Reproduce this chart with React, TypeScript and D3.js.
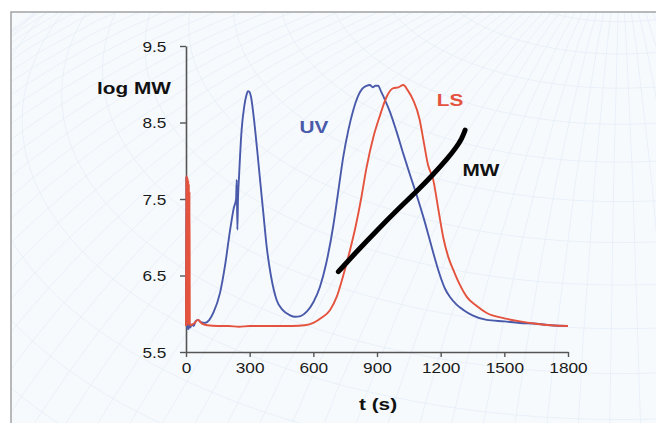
import React, { useEffect, useRef } from "react";
import * as d3 from "d3";

// UV detector trace (blue)
const uvTime = [0, 2, 5, 8, 12, 16, 20, 28, 36, 45, 57, 70, 90, 110, 130, 160, 185, 207, 225, 236, 239, 242, 245, 250, 262, 275, 285, 292, 299, 306, 320, 335, 349, 365, 380, 400, 427, 455, 490, 514, 540, 570, 600, 631, 660, 694, 720, 741, 765, 788, 810, 830, 851, 866, 880, 893, 905, 920, 940, 961, 990, 1023, 1055, 1087, 1120, 1150, 1175, 1197, 1220, 1244, 1275, 1307, 1350, 1417, 1500, 1574, 1650, 1720, 1800];
const uvValue = [5.85, 7.8, 5.8, 5.9, 5.8, 5.88, 5.82, 5.86, 5.84, 5.9, 5.92, 5.89, 5.88, 5.92, 6.02, 6.27, 6.65, 7.08, 7.38, 7.5, 7.75, 7.1, 7.5, 7.8, 8.4, 8.72, 8.86, 8.91, 8.9, 8.84, 8.55, 8.15, 7.75, 7.3, 6.88, 6.5, 6.18, 6.05, 5.98, 5.96, 5.97, 6.03, 6.15, 6.35, 6.65, 7.15, 7.65, 8.05, 8.4, 8.66, 8.84, 8.94, 8.98, 8.99, 8.96, 8.98, 8.98, 8.9, 8.78, 8.64, 8.4, 8.1, 7.82, 7.55, 7.25, 6.95, 6.7, 6.5, 6.33, 6.22, 6.12, 6.05, 5.98, 5.92, 5.9, 5.88, 5.87, 5.85, 5.84];

// light scattering trace (red)
const lsTime = [0, 1.5, 3, 4.5, 6, 7.5, 9, 10.5, 12, 13.5, 15, 16.5, 18, 22, 30, 40, 57, 75, 100, 150, 200, 250, 300, 400, 500, 560, 600, 640, 679, 710, 741, 770, 800, 825, 850, 883, 915, 946, 977, 1000, 1024, 1045, 1071, 1100, 1120, 1140, 1165, 1190, 1212, 1235, 1260, 1290, 1323, 1370, 1417, 1500, 1574, 1650, 1720, 1800];
const lsValue = [5.84, 7.8, 5.9, 7.8, 5.9, 7.78, 5.85, 7.75, 5.85, 7.7, 5.88, 7.6, 5.85, 5.85, 5.86, 5.88, 5.92, 5.87, 5.85, 5.84, 5.84, 5.83, 5.84, 5.84, 5.84, 5.85, 5.88, 5.95, 6.05, 6.22, 6.5, 6.8, 7.15, 7.5, 7.9, 8.31, 8.6, 8.84, 8.95, 8.96, 8.99, 8.92, 8.79, 8.55, 8.25, 7.95, 7.75, 7.35, 7.0, 6.75, 6.57, 6.38, 6.22, 6.1, 6.01, 5.94, 5.9, 5.87, 5.85, 5.84];

// log MW (black)
const mwTime = [718, 800, 900, 1000, 1087, 1165, 1230, 1275, 1300, 1315];
const mwValue = [6.55, 6.8, 7.09, 7.37, 7.6, 7.82, 8.02, 8.18, 8.29, 8.4];

const xTicks = [0, 300, 600, 900, 1200, 1500, 1800];
const yTicks = [5.5, 6.5, 7.5, 8.5, 9.5];

const W = 656;
const H = 423;
const FONT = "'Liberation Sans', Arial, sans-serif";

export default function App() {
  const ref = useRef<SVGSVGElement>(null);

  useEffect(() => {
    const svg = d3.select(ref.current);
    svg.selectAll("*").remove();

    const x = d3.scaleLinear().domain([0, 1800]).range([186, 568]);
    const y = d3.scaleLinear().domain([5.5, 9.5]).range([352, 46]);

    // page background + frame
    svg.append("rect").attr("width", W).attr("height", H).attr("fill", "#ffffff");
    svg
      .append("clipPath")
      .attr("id", "frameClip")
      .append("rect")
      .attr("x", 12)
      .attr("y", 13)
      .attr("width", W)
      .attr("height", H);
    svg
      .append("rect")
      .attr("x", 11)
      .attr("y", 12)
      .attr("width", W + 20)
      .attr("height", H + 20)
      .attr("fill", "#f7fafd")
      .attr("stroke", "#a3a3a3")
      .attr("stroke-width", 1.5);

    // faint globe-like grid in the background
    const bg = svg.append("g").attr("clip-path", "url(#frameClip)");
    const proj = d3.geoOrthographic().scale(950).translate([620, 760]).rotate([20, -30]);
    bg.append("path")
      .datum(d3.geoGraticule().step([3, 3])())
      .attr("d", d3.geoPath(proj))
      .attr("fill", "none")
      .attr("stroke", "#e3ecf6")
      .attr("stroke-width", 0.7);

    // axes
    const axisColor = "#555";
    const gx = svg.append("g").attr("transform", "translate(0,352)");
    gx.call(d3.axisBottom(x).tickValues(xTicks).tickSize(5).tickSizeOuter(0).tickFormat(d3.format("d")));
    const gy = svg.append("g").attr("transform", "translate(186,0)");
    gy.call(d3.axisLeft(y).tickValues(yTicks).tickSize(6).tickSizeOuter(0).tickFormat(d3.format(".1f")));

    [gx, gy].forEach((g) => {
      g.select(".domain").attr("stroke", axisColor).attr("stroke-width", 1.6);
      g.selectAll(".tick line").attr("stroke", axisColor).attr("stroke-width", 1.4);
      g.selectAll(".tick text").attr("fill", "#1a1a1a").style("font-family", FONT).style("font-size", "15px");
    });
    gx.selectAll(".tick text").attr("y", 10).attr("dy", "0.72em").attr("transform", "scale(1.15,1)");
    gy.selectAll(".tick text").attr("x", -17).attr("dy", "0.36em").attr("transform", "scale(1.15,1)");

    // traces
    const line = (ts: number[], vs: number[], curve: d3.CurveFactory) =>
      d3
        .line<number>()
        .x((_, i) => x(ts[i]))
        .y((v) => y(v))
        .curve(curve)(vs);

    svg.append("path").attr("d", line(uvTime, uvValue, d3.curveMonotoneX)).attr("fill", "none")
      .attr("stroke", "#4a5aab").attr("stroke-width", 1.9).attr("stroke-linejoin", "round");
    svg.append("path").attr("d", line(lsTime, lsValue, d3.curveMonotoneX)).attr("fill", "none")
      .attr("stroke", "#e4533d").attr("stroke-width", 1.9).attr("stroke-linejoin", "round");
    svg.append("path").attr("d", line(mwTime, mwValue, d3.curveBasis)).attr("fill", "none")
      .attr("stroke", "#000").attr("stroke-width", 5).attr("stroke-linecap", "round");

    // labels
    const label = (txt: string, px: number, py: number, color: string, anchor: string) =>
      svg
        .append("text")
        .attr("transform", `translate(${px},${py}) scale(1.3,1)`)
        .attr("text-anchor", anchor)
        .attr("fill", color)
        .style("font-family", FONT)
        .style("font-weight", "bold")
        .style("font-size", "16px")
        .text(txt);

    label("log MW", 97, 94, "#111", "start");
    label("t (s)", 378, 410, "#111", "middle");
    label("UV", 314, 133, "#4a5aab", "middle");
    label("LS", 450, 106, "#e4533d", "middle");
    label("MW", 481, 176, "#111", "middle");
  }, []);

  return (
    <svg
      ref={ref}
      width={W}
      height={H}
      style={{ position: "absolute", left: 0, top: 0, display: "block" }}
    />
  );
}
